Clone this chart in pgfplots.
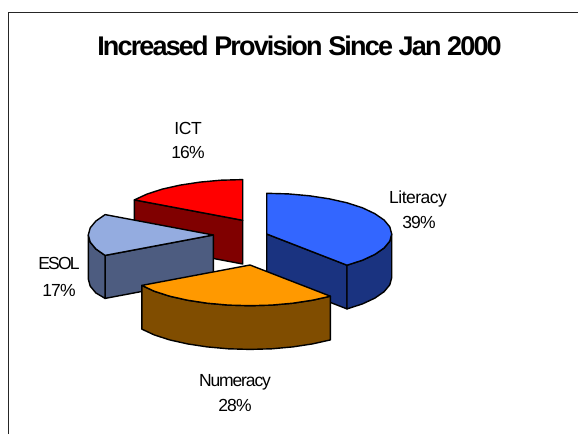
\documentclass[border=0pt]{standalone}
\usepackage{fontspec}
\usepackage{pgfplots}
\pgfplotsset{compat=1.18}
\setmainfont{Liberation Sans}
\newfontfamily\titlefont[LetterSpace=-6.8]{Liberation Sans}
\newcommand{\labelfont}[1]{\fontspec[LetterSpace=#1]{Liberation Sans}\fontsize{17.5}{20}\selectfont}
\definecolor{litTop}{HTML}{3366FF}
\definecolor{litSide}{HTML}{1A3380}
\definecolor{numTop}{HTML}{FF9900}
\definecolor{numSide}{HTML}{804D00}
\definecolor{esolTop}{HTML}{94ACE0}
\definecolor{esolSide}{HTML}{4D5C80}
\definecolor{ictTop}{HTML}{FF0000}
\definecolor{ictSide}{HTML}{800000}
\tikzset{slice label/.style={anchor=base, inner sep=0pt}}
\begin{document}
\begin{tikzpicture}
\useasboundingbox (0,0) rectangle (578pt,434pt);
\begin{axis}[
  at={(0,0)}, anchor=south west,
  scale only axis, width=578pt, height=434pt,
  xmin=0, xmax=578, ymin=0, ymax=434, y dir=reverse,
  hide axis, clip=false,
  every axis plot/.append style={line width=1.4pt, draw=black, line join=round, no markers},
]
% chart area frame
\addplot[line width=1pt, draw=black!85] coordinates {(8.5,434) (8.5,12.5) (578,12.5)};

% ICT, 16%
\addplot[fill=ictSide] coordinates {(134.4,199.9) (242.7,220.3) (242.7,264) (134.4,243.6)} -- cycle;
\addplot[fill=ictTop] coordinates {(242.7,220.3) (134.4,199.9) (146.9,194.1) (162.3,189.1) (180.2,185.1) (200.0,182.1) (221.0,180.2) (242.7,179.6)} -- cycle;

% ESOL, 17%
\addplot[fill=esolSide] coordinates {(213.3,235) (105.1,255.4) (105.1,298.4) (213.3,278)} -- cycle;
\addplot[fill=esolSide] coordinates {(105.1,255.4) (95.8,248.9) (90.2,242.1) (88.3,235) (88.3,279) (90.2,286.1) (95.8,292.9) (105.1,298.4)} -- cycle;
\addplot[fill=esolTop] coordinates {(213.3,235) (105.1,255.4) (95.8,248.9) (90.2,242.1) (88.3,235) (90.2,227.9) (95.8,221.1) (105.1,214.6)} -- cycle;

% Literacy, 39%
\addplot[fill=litSide] coordinates {(266.7,234) (347,265.2) (347,308.9) (266.7,277.7)} -- cycle;
\addplot[fill=litSide] coordinates {(391.7,234) (389.8,241.1) (384.2,247.9) (374.9,254.4) (362.5,260.2) (347,265.2) (347,308.9) (362.5,303.9) (374.9,298.1) (384.2,291.6) (389.8,284.8) (391.7,277.7)} -- cycle;
\addplot[fill=litTop] coordinates {(266.7,234) (266.7,193.3) (288.4,193.9) (309.5,195.8) (329.2,198.8) (347.0,202.8) (362.5,207.8) (374.9,213.7) (384.2,220.1) (389.8,226.9) (391.7,234) (389.8,241.1) (384.2,247.9) (374.9,254.4) (362.5,260.2) (347.0,265.2)} -- cycle;

% Numeracy, 28%
\addplot[fill=numSide] coordinates {(330.4,296.2) (312.5,300.2) (292.8,303.2) (271.7,305.1) (250,305.7) (228.3,305.1) (207.2,303.2) (187.5,300.2) (169.7,296.2) (154.2,291.2) (141.8,285.4) (141.8,329.1) (154.2,334.9) (169.7,339.9) (187.5,343.9) (207.2,346.9) (228.3,348.8) (250,349.4) (271.7,348.8) (292.8,346.9) (312.5,343.9) (330.4,339.9)} -- cycle;
\addplot[fill=numTop] coordinates {(250,265) (330.4,296.2) (312.5,300.2) (292.8,303.2) (271.7,305.1) (250,305.7) (228.3,305.1) (207.2,303.2) (187.5,300.2) (169.7,296.2) (154.2,291.2) (141.8,285.4)} -- cycle;

% title and slice labels
\node[anchor=base, inner sep=0pt, font=\titlefont\bfseries\fontsize{27}{30}\selectfont] at (axis cs:299.5,55.5) {Increased Provision Since Jan 2000};
\node[slice label, font=\labelfont{-2}] at (axis cs:188,134) {ICT};
\node[slice label, font=\labelfont{-5}] at (axis cs:188,158) {16\%};
\node[slice label, font=\labelfont{-3}] at (axis cs:418,203) {Literacy};
\node[slice label, font=\labelfont{-5}] at (axis cs:419,228) {39\%};
\node[slice label, font=\labelfont{-10}] at (axis cs:59,269) {ESOL};
\node[slice label, font=\labelfont{-5}] at (axis cs:59,296) {17\%};
\node[slice label, font=\labelfont{-6.5}] at (axis cs:235,386.5) {Numeracy};
\node[slice label, font=\labelfont{-5}] at (axis cs:235,411.5) {28\%};
\end{axis}
\end{tikzpicture}
\end{document}
